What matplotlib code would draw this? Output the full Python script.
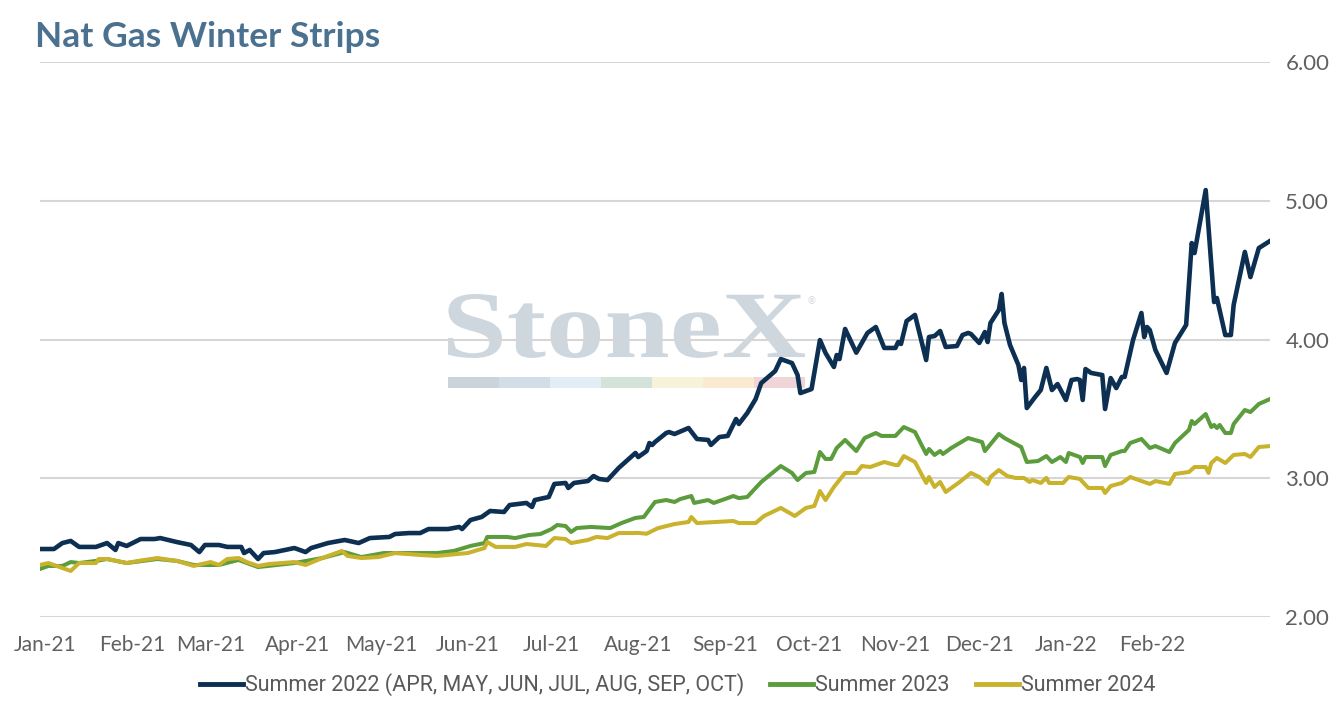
import numpy as np
import pandas as pd
import matplotlib
matplotlib.use("Agg")
import matplotlib.pyplot as plt
from matplotlib.patches import Rectangle, PathPatch
from matplotlib.textpath import TextPath
from matplotlib.font_manager import FontProperties
from matplotlib.transforms import Affine2D, IdentityTransform

# days counted from 30 Dec 2020, values in $/MMBtu
day_22 = [0, 5, 8, 11, 14, 20, 24, 27, 28, 31, 36, 41, 43, 49, 54, 57, 59, 64, 67, 72,
          73, 75, 78, 80, 84, 91, 95, 97, 103, 109, 114, 118, 125, 127, 132, 136, 139, 146, 150, 151,
          154, 158, 161, 166, 168, 174, 176, 177, 182, 184, 188, 189, 191, 196, 198, 200, 203, 207, 213, 214,
          217, 218, 219, 220, 224, 225, 227, 232, 235, 239, 240, 243, 246, 249, 250, 253, 256, 258, 263, 265,
          269, 271, 272, 276, 279, 281, 284, 285, 286, 288, 292, 296, 299, 302, 306, 307, 308, 310, 313, 317,
          318, 320, 322, 324, 328, 330, 332, 333, 336, 338, 339, 340, 343, 344, 345, 347, 350, 351, 352, 353,
          356, 358, 360, 362, 364, 367, 369, 371, 372, 373, 374, 376, 380, 381, 383, 385, 387, 388, 391, 394,
          395, 396, 397, 399, 403, 406, 410, 412, 413, 417, 420, 421, 424, 426, 427, 431, 433, 436, 440]
summer_22 = [2.49, 2.49, 2.533, 2.548, 2.505, 2.505, 2.533, 2.483, 2.533, 2.512, 2.562, 2.562, 2.569, 2.54, 2.519, 2.468, 2.519, 2.519, 2.505, 2.505,
             2.461, 2.483, 2.418, 2.461, 2.468, 2.497, 2.468, 2.497, 2.533, 2.555, 2.533, 2.569, 2.577, 2.598, 2.605, 2.605, 2.634, 2.634, 2.649, 2.634,
             2.699, 2.721, 2.764, 2.757, 2.807, 2.822, 2.793, 2.843, 2.865, 2.959, 2.966, 2.93, 2.966, 2.98, 3.016, 2.995, 2.987, 3.074, 3.182, 3.153,
             3.196, 3.254, 3.24, 3.261, 3.326, 3.333, 3.319, 3.362, 3.283, 3.276, 3.24, 3.297, 3.305, 3.427, 3.391, 3.47, 3.571, 3.686, 3.773, 3.859,
             3.83, 3.744, 3.614, 3.643, 3.996, 3.903, 3.802, 3.888, 3.859, 4.076, 3.905, 4.047, 4.09, 3.939, 3.939, 3.982, 3.968, 4.133, 4.177, 3.852,
             4.018, 4.025, 4.061, 3.946, 3.953, 4.032, 4.047, 4.04, 3.975, 4.054, 3.982, 4.119, 4.213, 4.328, 4.119, 3.96, 3.816, 3.708, 3.795, 3.506,
             3.586, 3.636, 3.795, 3.636, 3.679, 3.564, 3.708, 3.715, 3.708, 3.564, 3.787, 3.759, 3.744, 3.499, 3.722, 3.65, 3.73, 3.73, 3.996, 4.191,
             4.018, 4.09, 4.068, 3.924, 3.759, 3.975, 4.105, 4.695, 4.623, 5.077, 4.27, 4.299, 4.032, 4.032, 4.249, 4.631, 4.45, 4.659, 4.71]

day_23 = [0, 3, 8, 11, 14, 20, 24, 31, 42, 49, 55, 64, 71, 78, 91, 101, 109, 115, 123, 133,
          142, 148, 154, 159, 160, 167, 170, 175, 179, 183, 185, 188, 190, 192, 197, 204, 208, 213, 216, 220,
          224, 227, 229, 233, 234, 239, 241, 245, 248, 250, 253, 258, 265, 269, 271, 274, 277, 279, 281, 283,
          285, 288, 292, 295, 299, 301, 306, 309, 313, 317, 318, 320, 322, 323, 326, 329, 332, 337, 338, 343,
          345, 347, 351, 353, 357, 360, 362, 365, 367, 368, 372, 373, 374, 380, 381, 383, 387, 388, 390, 394,
          397, 399, 404, 406, 411, 412, 413, 417, 419, 420, 421, 422, 424, 426, 427, 431, 433, 436, 440]
summer_23 = [2.346, 2.368, 2.368, 2.396, 2.389, 2.404, 2.418, 2.389, 2.418, 2.404, 2.375, 2.375, 2.411, 2.36, 2.389, 2.425, 2.468, 2.432, 2.461, 2.461,
             2.461, 2.476, 2.512, 2.533, 2.577, 2.577, 2.569, 2.591, 2.598, 2.634, 2.663, 2.656, 2.613, 2.641, 2.649, 2.641, 2.677, 2.714, 2.721, 2.829,
             2.843, 2.829, 2.85, 2.872, 2.822, 2.843, 2.822, 2.85, 2.872, 2.857, 2.865, 2.973, 3.088, 3.038, 2.987, 3.038, 3.045, 3.189, 3.139, 3.139,
             3.218, 3.276, 3.196, 3.29, 3.326, 3.305, 3.305, 3.369, 3.333, 3.175, 3.211, 3.168, 3.196, 3.175, 3.218, 3.254, 3.29, 3.261, 3.196, 3.319,
             3.29, 3.268, 3.225, 3.117, 3.124, 3.16, 3.117, 3.153, 3.117, 3.182, 3.153, 3.11, 3.153, 3.153, 3.088, 3.168, 3.196, 3.196, 3.254, 3.283,
             3.218, 3.232, 3.189, 3.254, 3.348, 3.413, 3.391, 3.463, 3.369, 3.384, 3.362, 3.384, 3.326, 3.326, 3.391, 3.492, 3.477, 3.535, 3.571]

day_24 = [0, 3, 8, 11, 14, 20, 21, 24, 31, 35, 42, 49, 55, 61, 64, 67, 71, 74, 78, 82,
          91, 95, 101, 108, 110, 115, 121, 127, 136, 142, 153, 159, 160, 163, 170, 174, 181, 184, 188, 190,
          196, 199, 203, 207, 212, 214, 217, 221, 227, 232, 233, 235, 242, 248, 250, 256, 259, 265, 270, 274,
          277, 279, 281, 284, 288, 292, 294, 297, 302, 306, 307, 309, 313, 317, 318, 320, 322, 324, 329, 333,
          336, 339, 340, 343, 346, 349, 352, 354, 355, 358, 360, 361, 366, 368, 372, 375, 380, 381, 383, 387,
          390, 394, 397, 399, 404, 406, 411, 413, 417, 418, 419, 421, 424, 427, 431, 433, 436, 440]
summer_24 = [2.375, 2.389, 2.353, 2.332, 2.389, 2.389, 2.418, 2.418, 2.389, 2.404, 2.425, 2.404, 2.368, 2.396, 2.375, 2.418, 2.425, 2.396, 2.368, 2.382,
             2.396, 2.375, 2.425, 2.476, 2.44, 2.425, 2.432, 2.461, 2.447, 2.44, 2.461, 2.497, 2.54, 2.505, 2.505, 2.526, 2.512, 2.569, 2.562, 2.533,
             2.555, 2.577, 2.569, 2.605, 2.605, 2.606, 2.6, 2.64, 2.67, 2.685, 2.721, 2.677, 2.685, 2.692, 2.677, 2.677, 2.728, 2.786, 2.728, 2.786,
             2.8, 2.908, 2.843, 2.937, 3.038, 3.038, 3.088, 3.081, 3.117, 3.095, 3.095, 3.16, 3.117, 2.966, 3.009, 2.937, 2.973, 2.901, 2.973, 3.038,
             3.009, 2.959, 3.009, 3.059, 3.016, 3.002, 3.002, 2.973, 2.987, 2.966, 3.002, 2.966, 2.966, 3.009, 2.995, 2.93, 2.93, 2.894, 2.944, 2.966,
             3.009, 2.98, 2.959, 2.98, 2.959, 3.031, 3.045, 3.081, 3.081, 3.038, 3.11, 3.146, 3.11, 3.168, 3.175, 3.153, 3.225, 3.232]

month_labels = ['Jan-21', 'Feb-21', 'Mar-21', 'Apr-21', 'May-21', 'Jun-21', 'Jul-21',
                'Aug-21', 'Sep-21', 'Oct-21', 'Nov-21', 'Dec-21', 'Jan-22', 'Feb-22']

start = pd.Timestamp('2020-12-30')
def to_dates(days):
    return start + pd.to_timedelta(days, unit='D')

navy = '#0c2f52'
green = '#5b9c3c'
gold = '#c9b22c'
gray_txt = '#606060'

W, H = 1344, 706
fig = plt.figure(figsize=(W / 100, H / 100), dpi=100)
ax = fig.add_axes([40 / W, 1 - 617 / H, 1230 / W, 555 / H])

# StoneX watermark (sits behind gridlines and series)
tp = TextPath((0, 0), 'StoneX', size=1, prop=FontProperties(family='Liberation Serif', weight='semibold'))
ex = tp.get_extents()
sx = 357 / ex.width
sy = 64 / ex.height
wm_tr = Affine2D().translate(-ex.x0, -ex.y0).scale(sx, sy).translate(448, H - 358)
ax.add_patch(PathPatch(tp, transform=wm_tr + IdentityTransform(), facecolor='#cfd7de',
                       edgecolor='none', zorder=0.8, clip_on=False))
ax.text(812 / W, 1 - 301 / H, '®', transform=fig.transFigure, ha='center', va='center',
        fontsize=7, color='#cfd7de', zorder=0.8)
wm_cols = ['#cbd3db', '#d3dde8', '#e2edf5', '#d3e3da', '#f7f3da', '#fbead2', '#f0d5d8']
seg_w = (805 - 448) / 7 / W
for i, c in enumerate(wm_cols):
    ax.add_patch(Rectangle((448 / W + i * seg_w, 1 - 388 / H), seg_w, 11 / H,
                           transform=fig.transFigure, facecolor=c, edgecolor='none', zorder=0.8))

ax.plot(to_dates(day_23), summer_23, color=green, lw=2.9, zorder=4,
        label='Summer 2023', solid_joinstyle='round')
ax.plot(to_dates(day_24), summer_24, color=gold, lw=2.9, zorder=5,
        label='Summer 2024', solid_joinstyle='round')
ax.plot(to_dates(day_22), summer_22, color=navy, lw=3.3, zorder=6,
        label='Summer 2022 (APR, MAY, JUN, JUL, AUG, SEP, OCT)', solid_joinstyle='round')

ax.set_ylim(2, 6)
ax.set_xlim(to_dates([0])[0], to_dates([440])[0])
ax.set_yticks([2, 3, 4, 5, 6])
ax.set_yticklabels(['%.2f' % v for v in [2, 3, 4, 5, 6]])
ax.yaxis.tick_right()
ticks = pd.date_range('2021-01-01', periods=len(month_labels), freq='MS')
ax.set_xticks(ticks)
ax.set_xticklabels(month_labels)
ax.tick_params(axis='both', length=0, colors=gray_txt, labelsize=15)
ax.tick_params(axis='y', pad=11, labelsize=16)
ax.tick_params(axis='x', pad=13)
ax.grid(axis='y', color='#d6d6d6', lw=1.5)
ax.set_axisbelow('line')
for s in ax.spines.values():
    s.set_visible(False)
for lab in ax.get_xticklabels() + ax.get_yticklabels():
    lab.set_family(['Lato', 'DejaVu Sans'])

fig.text(35 / W, 1 - 47 / H, 'Nat Gas Winter Strips', fontsize=25.5, fontweight='bold',
         color='#4b7190', family=['Lato', 'DejaVu Sans'], va='baseline')

handles, labels = ax.get_legend_handles_labels()
order = [2, 0, 1]
leg = fig.legend([handles[i] for i in order], [labels[i] for i in order],
                 loc='center', bbox_to_anchor=(0.504, 0.03), ncol=3, frameon=False,
                 handlelength=2.0, handletextpad=0.1, columnspacing=1.2,
                 prop={'family': ['Liberation Sans Narrow', 'Roboto'], 'size': 15.5})
for t in leg.get_texts():
    t.set_color('#595959')
for h in leg.legend_handles:
    h.set_linewidth(3.5)

fig.savefig('out.png', dpi=100)
